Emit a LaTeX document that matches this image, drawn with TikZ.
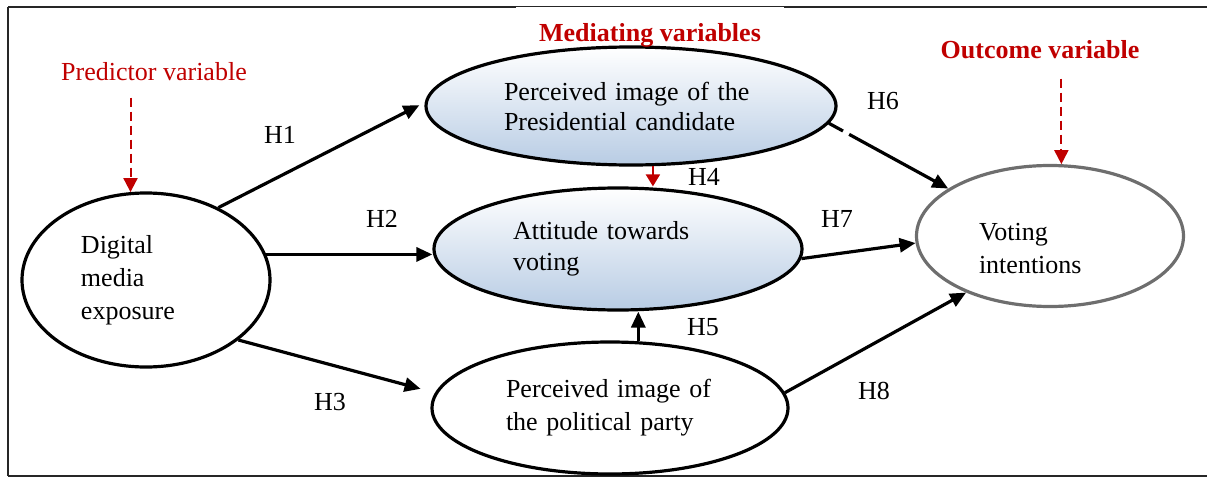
\documentclass[tikz,border=0pt]{standalone}
\usepackage{fontspec}
\setmainfont{Liberation Serif}
\usetikzlibrary{shapes.geometric, arrows.meta}
\definecolor{varred}{HTML}{C00000}
\definecolor{medblue}{HTML}{B8CCE4}
\definecolor{outgray}{HTML}{6E6E6E}
\definecolor{framegray}{HTML}{262626}

\begin{document}
\begin{tikzpicture}[
    x=0.5pt, y=-0.5pt,
    font=\fontsize{13}{16.5}\selectfont,
    construct/.style={ellipse, draw, line width=1.6pt, inner sep=0pt, align=left},
    mediator/.style={construct, top color=white, bottom color=medblue},
    effect/.style={-{Triangle[length=8pt, width=7pt]}, line width=1.6pt},
    hyp/.style={inner sep=0pt},
    varlabel/.style={text=varred, inner sep=2pt},
    varbold/.style={varlabel, font=\fontsize{13}{15}\selectfont\bfseries},
    pointer/.style={-{Triangle[length=7pt, width=7pt]}, draw=varred, line width=1pt, dash pattern=on 4.5pt off 2.5pt}
]
\useasboundingbox (0,0) rectangle (1207,477);

% frame
\draw[framegray, line width=1pt] (8,7) -- (1207,7);
\draw[framegray, line width=1pt] (8,7) -- (8,476);
\draw[framegray, line width=1pt] (8,476) -- (1207,476);

% constructs
\node[construct, minimum width=124pt, minimum height=87pt, text width=65pt] (dme) at (146,280) {Digital\\media\\exposure};
\node[mediator, minimum width=205pt, minimum height=59pt, text width=127pt, font=\fontsize{13}{15}\selectfont] (pres) at (631,106) {Perceived image of the\\Presidential candidate};
\node[mediator, minimum width=184pt, minimum height=61pt, text width=105pt, font=\fontsize{13}{15.5}\selectfont] (att) at (618,249) {Attitude towards\\voting};
\node[construct, minimum width=178pt, minimum height=66pt, text width=104pt] (party) at (610,408) {Perceived image of\\the political party};
\node[construct, draw=outgray, minimum width=133.5pt, minimum height=70.5pt, text width=71pt, text depth=4pt] (vote) at (1050,236) {Voting\\intentions};

% variable labels
\node[varlabel] (pred) at (154,72) {Predictor variable};
\node[varbold, fill=white, anchor=base, minimum width=134pt, text height=16pt, text depth=0pt, inner ysep=1pt] (med) at (650,41) {Mediating variables};
\node[varbold] (out) at (1040,50) {Outcome variable};

\draw[pointer, shorten <=6pt] (pred.south -| dme.100) -- (dme.100);
\draw[pointer, shorten <=7.5pt] (out.south -| vote.81) -- (vote.81);

% hypothesised paths
\draw[effect, shorten >=3pt] (dme.45) -- (pres.179);
\draw[effect] (dme.12) -- (dme.12 -| att.west);
\draw[effect, shorten >=7.5pt] (dme.-33) -- (party.175);
\draw[-{Triangle[length=6pt, width=7pt]}, draw=varred, fill=varred, line width=1pt] (pres.-70) -- (pres.-70 |- att.north);
\draw[effect] (party.67) -- (party.67 |- att.south);
\draw[effect, dash pattern=on 8pt off 3.5pt on 100pt off 0pt] (pres.-5) -- (vote.155);
\draw[effect] (att.-3) -- (vote.183);
\draw[effect] (party.5) -- (vote.214);

% labels
\node[hyp] (h1) at (280,135) {H1};
\node[hyp] (h2) at (382,219) {H2};
\node[hyp] (h3) at (330,402) {H3};
\node[hyp] (h4) at (704,177) {H4};
\node[hyp] (h5) at (703,327) {H5};
\node[hyp] (h6) at (883,101) {H6};
\node[hyp] (h7) at (837,219) {H7};
\node[hyp] (h8) at (874,391) {H8};

\end{tikzpicture}
\end{document}
